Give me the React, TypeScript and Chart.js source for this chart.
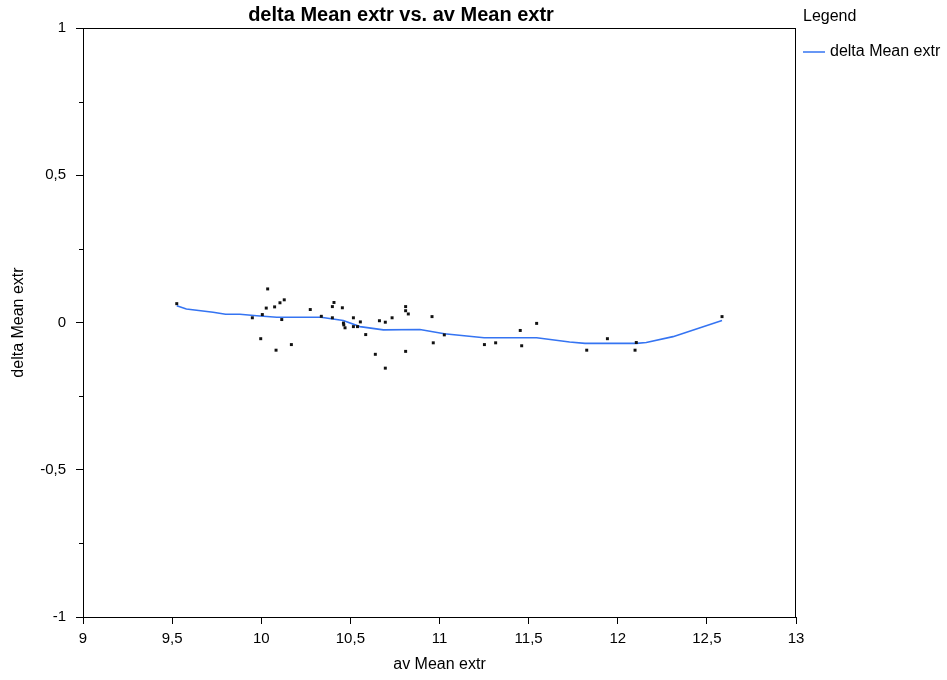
import React, { useEffect, useRef } from "react";
import { Chart, registerables } from "chart.js";

Chart.register(...registerables);

// Observed pairs: average of the two extractions vs. their difference
const avMean: number[] = [
  9.526, 9.95, 9.997, 10.006, 10.028, 10.036, 10.075, 10.083, 10.105, 10.115,
  10.129, 10.169, 10.275, 10.337, 10.399, 10.399, 10.408, 10.455, 10.461, 10.463,
  10.47, 10.517, 10.517, 10.54, 10.556, 10.586, 10.64, 10.663, 10.696, 10.696,
  10.734, 10.81, 10.81, 10.825, 10.81, 10.958, 10.965, 11.027, 11.252, 11.315,
  11.453, 11.461, 11.545, 11.826, 11.942, 12.097, 12.104, 12.585,
];
const deltaMean: number[] = [
  0.064, 0.016, -0.055, 0.027, 0.049, 0.114, 0.053, -0.094, 0.067, 0.01,
  0.077, -0.075, 0.044, 0.021, 0.054, 0.016, 0.068, 0.05, -0.002, -0.008,
  -0.018, 0.016, -0.014, -0.014, 0.002, -0.041, -0.108, 0.006, 0.001, -0.155,
  0.016, 0.054, 0.04, 0.029, -0.098, 0.02, -0.069, -0.042, -0.075, -0.069,
  -0.027, -0.079, -0.003, -0.094, -0.055, -0.094, -0.068, 0.02,
];

// Smoothed trend through the pairs
const fitX: number[] = [
  9.526, 9.58, 9.73, 9.8, 9.88, 9.975, 10.087, 10.22, 10.335, 10.46, 10.554,
  10.685, 10.89, 11.027, 11.25, 11.545, 11.73, 11.816, 12.106, 12.16, 12.31, 12.585,
];
const fitY: number[] = [
  0.057, 0.046, 0.035, 0.028, 0.028, 0.023, 0.018, 0.018, 0.018, 0.007, -0.014,
  -0.025, -0.024, -0.038, -0.052, -0.052, -0.066, -0.071, -0.071, -0.068, -0.048, 0.007,
];

const yMinorTicks: number[] = [-0.75, -0.25, 0.25, 0.75];

const chartTitle = "delta Mean extr vs. av Mean extr";
const xTitle = "av Mean extr";
const yTitle = "delta Mean extr";
const legendTitle = "Legend";
const lineColor = "#3574f2";
const FONT = "'Liberation Sans', Arial, sans-serif";

const fmt = (v: number) => String(v).replace(".", ",");

const decorations = {
  id: "decorations",
  afterDraw(chart: any) {
    const { ctx, chartArea } = chart;
    const yScale = chart.scales.y;
    ctx.save();
    // plot frame
    ctx.strokeStyle = "#000";
    ctx.lineWidth = 1;
    ctx.strokeRect(chartArea.left + 0.5, chartArea.top + 0.5, chartArea.right - chartArea.left - 1, chartArea.bottom - chartArea.top);
    // minor ticks on the value axis
    ctx.beginPath();
    for (const v of yMinorTicks) {
      const py = Math.round(yScale.getPixelForValue(v)) + 0.5;
      ctx.moveTo(chartArea.left - 4, py);
      ctx.lineTo(chartArea.left, py);
    }
    ctx.stroke();
    // title
    ctx.fillStyle = "#000";
    ctx.font = `bold 20px ${FONT}`;
    ctx.textAlign = "center";
    ctx.textBaseline = "middle";
    ctx.fillText(chartTitle, 401, 15);
    // legend
    ctx.font = `16px ${FONT}`;
    ctx.textAlign = "left";
    ctx.fillText(legendTitle, 803, 17);
    const ds = chart.data.datasets[0];
    ctx.strokeStyle = ds.borderColor;
    ctx.lineWidth = 1.5;
    ctx.beginPath();
    ctx.moveTo(803, 52);
    ctx.lineTo(825, 52);
    ctx.stroke();
    ctx.fillText(ds.label, 830, 52);
    ctx.restore();
  },
};

export default function App() {
  const ref = useRef<HTMLCanvasElement | null>(null);

  useEffect(() => {
    if (!ref.current) return;
    const chart = new Chart(ref.current, {
      type: "scatter",
      data: {
        datasets: [
          {
            type: "line",
            label: yTitle,
            data: fitX.map((x, i) => ({ x, y: fitY[i] })),
            borderColor: lineColor,
            borderWidth: 1.6,
            pointRadius: 0,
            fill: false,
            tension: 0,
            order: 1,
          },
          {
            type: "scatter",
            label: "observed",
            data: avMean.map((x, i) => ({ x, y: deltaMean[i] })),
            pointStyle: "rect",
            pointRadius: 2.1,
            backgroundColor: "#111",
            borderColor: "#111",
            borderWidth: 0,
            order: 0,
          },
        ],
      },
      plugins: [decorations],
      options: {
        animation: false,
        responsive: false,
        maintainAspectRatio: false,
        layout: { padding: { top: 28, right: 151, left: 0, bottom: 0 } },
        plugins: {
          legend: { display: false },
          title: { display: false },
          tooltip: { enabled: false },
        },
        scales: {
          x: {
            type: "linear",
            min: 9,
            max: 13,
            afterFit: (s: any) => {
              s.height = 63;
            },
            ticks: {
              stepSize: 0.5,
              color: "#000",
              padding: 6,
              font: { family: FONT, size: 15 },
              callback: (v: any) => fmt(Number(v)),
            },
            grid: { drawOnChartArea: false, tickLength: 7, color: "#000" },
            border: { display: true, color: "#000" },
            title: {
              display: true,
              text: xTitle,
              color: "#000",
              font: { family: FONT, size: 16 },
              padding: { top: 0, bottom: 6 },
            },
          },
          y: {
            type: "linear",
            min: -1,
            max: 1,
            afterFit: (s: any) => {
              s.width = 83;
            },
            ticks: {
              stepSize: 0.5,
              color: "#000",
              padding: 10,
              font: { family: FONT, size: 15 },
              callback: (v: any) => fmt(Number(v)),
            },
            grid: { drawOnChartArea: false, tickLength: 7, color: "#000" },
            border: { display: true, color: "#000" },
            title: {
              display: true,
              text: yTitle,
              color: "#000",
              font: { family: FONT, size: 16 },
              padding: { top: 9, bottom: 0 },
            },
          },
        },
      },
    });
    return () => chart.destroy();
  }, []);

  return (
    <div style={{ position: "absolute", left: 0, top: 0, width: 947, height: 680, background: "#fff" }}>
      <canvas ref={ref} width={947} height={680} style={{ width: 947, height: 680, display: "block" }} />
    </div>
  );
}
